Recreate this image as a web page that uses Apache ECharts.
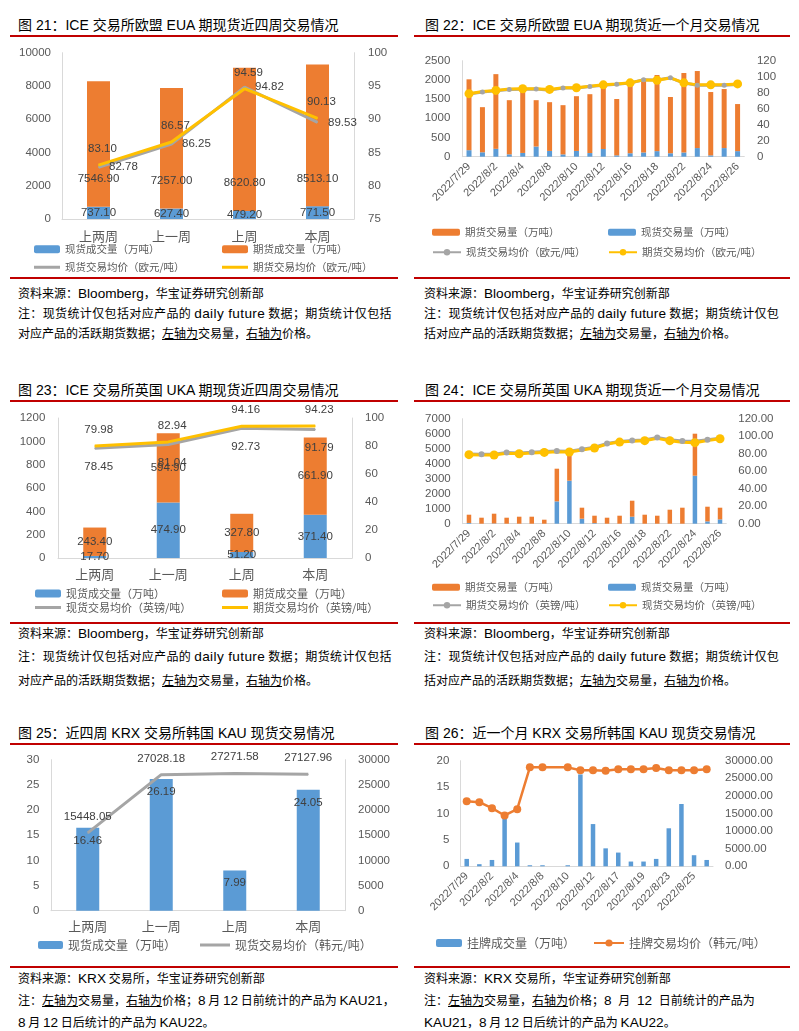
<!DOCTYPE html>
<html><head><meta charset="utf-8">
<script src="https://cdn.jsdelivr.net/npm/echarts@6/dist/echarts.min.js"></script>
<style>
html,body{margin:0;padding:0;background:#fff;}
body{width:799px;height:1031px;overflow:hidden;position:relative;font-family:"Liberation Sans","Noto Sans CJK SC",sans-serif;}
.t{position:absolute;font-size:14px;color:#000;white-space:nowrap;line-height:16px;}
.r{position:absolute;height:2px;background:#C00000;}
.n{position:absolute;font-size:12px;color:#000;white-space:nowrap;line-height:14px;font-family:"Noto Sans CJK SC","Liberation Sans",sans-serif;}
.l{font-size:13.6px;font-family:"Liberation Sans",sans-serif;}
.u{text-decoration:underline;}
.c{position:absolute;}
.sl{letter-spacing:0.37px;}
.sr{letter-spacing:0.19px;}
</style></head><body>

<div class="t" style="left:18px;top:17px;">图 21：ICE 交易所欧盟 EUA 期现货近四周交易情况</div>
<div class="t" style="left:425px;top:17px;">图 22：ICE 交易所欧盟 EUA 期现货近一个月交易情况</div>
<div class="r" style="left:10px;top:35px;width:388px;"></div>
<div class="r" style="left:414px;top:35px;width:376px;"></div>
<div class="c" id="c21" style="left:0;top:40px;width:400px;height:236px;"></div>
<div class="c" id="c22" style="left:400px;top:40px;width:399px;height:236px;"></div>
<div class="r" style="left:10px;top:277px;width:388px;"></div>
<div class="r" style="left:414px;top:277px;width:376px;"></div>
<div class="n" style="left:18px;top:286px;">资料来源：<span class="l">Bloomberg</span>，华宝证券研究创新部</div>
<div class="n sl" style="left:18px;top:306px;">注：现货统计仅包括对应产品的 <span class="l">daily future</span> 数据；期货统计仅包括</div>
<div class="n" style="left:18px;top:326px;">对应产品的活跃期货数据；<span class="u">左轴为</span>交易量，<span class="u">右轴为</span>价格。</div>
<div class="n" style="left:424px;top:286px;">资料来源：<span class="l">Bloomberg</span>，华宝证券研究创新部</div>
<div class="n sr" style="left:424px;top:306px;">注：现货统计仅包括对应产品的 <span class="l">daily future</span> 数据；期货统计仅包</div>
<div class="n" style="left:424px;top:326px;">括对应产品的活跃期货数据；<span class="u">左轴为</span>交易量，<span class="u">右轴为</span>价格。</div>

<div class="t" style="left:18px;top:382px;">图 23：ICE 交易所英国 UKA 期现货近四周交易情况</div>
<div class="t" style="left:425px;top:382px;">图 24：ICE 交易所英国 UKA 期现货近一个月交易情况</div>
<div class="r" style="left:10px;top:400px;width:388px;"></div>
<div class="r" style="left:414px;top:400px;width:376px;"></div>
<div class="c" id="c23" style="left:0;top:404px;width:400px;height:217px;"></div>
<div class="c" id="c24" style="left:400px;top:404px;width:399px;height:217px;"></div>
<div class="r" style="left:10px;top:622px;width:388px;"></div>
<div class="r" style="left:414px;top:622px;width:376px;"></div>
<div class="n" style="left:18px;top:626px;">资料来源：<span class="l">Bloomberg</span>，华宝证券研究创新部</div>
<div class="n sl" style="left:18px;top:649px;">注：现货统计仅包括对应产品的 <span class="l">daily future</span> 数据；期货统计仅包括</div>
<div class="n" style="left:18px;top:673px;">对应产品的活跃期货数据；<span class="u">左轴为</span>交易量，<span class="u">右轴为</span>价格。</div>
<div class="n" style="left:424px;top:626px;">资料来源：<span class="l">Bloomberg</span>，华宝证券研究创新部</div>
<div class="n sr" style="left:424px;top:649px;">注：现货统计仅包括对应产品的 <span class="l">daily future</span> 数据；期货统计仅包</div>
<div class="n" style="left:424px;top:673px;">括对应产品的活跃期货数据；<span class="u">左轴为</span>交易量，<span class="u">右轴为</span>价格。</div>

<div class="t" style="left:18px;top:725px;">图 25：近四周 KRX 交易所韩国 KAU 现货交易情况</div>
<div class="t" style="left:425px;top:725px;">图 26：近一个月 KRX 交易所韩国 KAU 现货交易情况</div>
<div class="r" style="left:10px;top:743px;width:388px;"></div>
<div class="r" style="left:414px;top:743px;width:376px;"></div>
<div class="c" id="c25" style="left:0;top:748px;width:400px;height:216px;"></div>
<div class="c" id="c26" style="left:400px;top:748px;width:399px;height:216px;"></div>
<div class="r" style="left:10px;top:966px;width:388px;"></div>
<div class="r" style="left:414px;top:966px;width:376px;"></div>
<div class="n" style="left:18px;top:971px;">资料来源：<span class="l">KRX</span> 交易所，华宝证券研究创新部</div>
<div class="n" style="left:18px;top:993px;">注：<span class="u">左轴为</span>交易量，<span class="u">右轴为</span>价格；<span class="l">8</span> 月 <span class="l">12</span> 日前统计的产品为 <span class="l">KAU21</span>，</div>
<div class="n" style="left:18px;top:1015px;"><span class="l">8</span> 月 <span class="l">12</span> 日后统计的产品为 <span class="l">KAU22</span>。</div>
<div class="n" style="left:424px;top:971px;">资料来源：<span class="l">KRX</span> 交易所，华宝证券研究创新部</div>
<div class="n" style="left:424px;top:993px;word-spacing:4px;">注：<span class="u">左轴为</span>交易量，<span class="u">右轴为</span>价格；<span class="l">8</span> 月 <span class="l">12</span> 日前统计的产品为</div>
<div class="n" style="left:424px;top:1015px;"><span class="l">KAU21</span>，<span class="l">8</span> 月 <span class="l">12</span> 日后统计的产品为 <span class="l">KAU22</span>。</div>

<script>
// ---------- data ----------
const weeks = ['上两周', '上一周', '上周', '本周'];

// Fig 21: EUA weekly
const euaSpotVol = [737.10, 627.40, 479.20, 771.50];
const euaFutVol = [7546.90, 7257.00, 8620.80, 8513.10];
const euaSpotPx = [82.78, 86.25, 94.82, 89.53];
const euaFutPx = [83.10, 86.57, 94.59, 90.13];

// Fig 22 / 24: ICE daily
const iceDays = ['2022/7/29', '2022/8/1', '2022/8/2', '2022/8/3', '2022/8/4', '2022/8/5', '2022/8/8',
  '2022/8/9', '2022/8/10', '2022/8/11', '2022/8/12', '2022/8/15', '2022/8/16', '2022/8/17',
  '2022/8/18', '2022/8/19', '2022/8/22', '2022/8/23', '2022/8/24', '2022/8/25', '2022/8/26'];
const euaDayFutVol = [1845, 1175, 1945, 1410, 1682, 1207, 1270, 1282, 1426, 1533, 1623, 1467, 1837, 1904, 1982, 1464, 2069, 2006, 1649, 1537, 1226];
const euaDaySpotVol = [170, 115, 205, 62, 98, 265, 150, 60, 150, 95, 200, 35, 90, 110, 145, 90, 110, 225, 35, 225, 145];
const euaDaySpotPx = [78.3, 81.0, 82.4, 83.9, 84.4, 84.5, 83.2, 85.8, 85.8, 87.8, 89.4, 90.6, 92.1, 96.2, 95.8, 98.6, 92.0, 89.2, 89.3, 89.2, 90.2];
const euaDayFutPx = [78.8, 81.6, 82.9, 84.5, 84.9, 84.9, 84.1, 86.2, 86.2, 88.2, 89.8, 91.0, 92.3, 96.0, 95.6, 98.5, 92.3, 89.8, 89.8, 89.8, 91.0];

// Fig 23: UKA weekly
const ukaSpotVol = [17.70, 474.90, 51.20, 371.40];
const ukaFutVol = [243.40, 594.90, 327.80, 661.90];
const ukaSpotPx = [78.45, 81.04, 92.73, 91.79];
const ukaFutPx = [79.98, 82.94, 94.16, 94.23];

// Fig 24: UKA daily
const ukaDayFutVol = [550, 400, 649, 400, 467, 467, 267, 2178, 2111, 734, 493, 400, 533, 1066, 600, 533, 933, 1067, 2800, 978, 778];
const ukaDaySpotVol = [50, 0, 18, 0, 0, 0, 0, 1489, 2867, 333, 40, 0, 0, 467, 0, 0, 0, 0, 3200, 155, 289];
const ukaDayFutPx = [79.6, 79.3, 79.3, 81.4, 80.8, 81.6, 82.6, 83.0, 82.8, 85.0, 87.4, 91.6, 94.0, 95.1, 95.8, 98.4, 95.9, 94.6, 94.3, 96.0, 97.6];
const ukaDaySpotPx = [78.9, 78.5, 78.5, 80.4, 80.0, 80.8, 81.5, 82.3, 81.9, 84.2, 86.5, 91.0, 93.3, 94.1, 94.9, 97.5, 94.9, 93.0, 92.6, 95.2, 97.1];

// Fig 25: KAU weekly
const kauVol = [16.46, 26.19, 7.99, 24.05];
const kauPx = [15448.05, 27028.18, 27271.58, 27127.96];

// Fig 26: KAU daily
const krxDays = ['2022/7/29', '2022/8/1', '2022/8/2', '2022/8/3', '2022/8/4', '2022/8/5', '2022/8/8',
  '2022/8/9', '2022/8/10', '2022/8/11', '2022/8/12', '2022/8/16', '2022/8/17', '2022/8/18',
  '2022/8/19', '2022/8/22', '2022/8/23', '2022/8/24', '2022/8/25', '2022/8/26'];
const kauDayVol = [1.4, 0.4, 1.2, 9.9, 4.5, 0.2, 0.2, 0, 0.2, 17.4, 8.0, 3.4, 2.6, 0.9, 0.9, 1.4, 7.2, 11.8, 2.1, 1.2];
const kauDayPx = [18490, 18208, 16509, 14434, 16226, 28113, 28113, null, 28113, 27264, 27264, 27170, 27547, 27547, 27547, 27924, 27264, 27264, 27264, 27547];

// ---------- styles ----------
const BLUE = '#5B9BD5', ORANGE = '#ED7D31', GRAY = '#A5A5A5', YELLOW = '#FFC000';
const NUMFONT = '"Liberation Sans", "Noto Sans CJK SC", sans-serif';
const CJKFONT = '"Noto Sans CJK SC", "Liberation Sans", sans-serif';
const AXC = '#D9D9D9';

function catAxis(data, rotated, margin) {
  return {
    type: 'category', data: data,
    axisLine: { show: true, lineStyle: { color: AXC } },
    axisTick: { show: false },
    axisLabel: rotated
      ? { color: '#595959', fontSize: 11, fontFamily: NUMFONT, rotate: 45, interval: 1, margin: margin }
      : { color: '#595959', fontSize: 13, fontFamily: CJKFONT, margin: margin }
  };
}
function valAxis(min, max, interval, pos, showLine, margin, fixed) {
  return {
    type: 'value', min: min, max: max, interval: interval, position: pos,
    axisLine: { show: showLine, lineStyle: { color: AXC } },
    axisTick: { show: false },
    splitLine: { show: false },
    axisLabel: {
      color: '#595959', fontSize: 11.5, fontFamily: NUMFONT, margin: margin,
      formatter: fixed ? (v => v.toFixed(2)) : (v => String(v))
    }
  };
}
function lg(name, left, top, fs, w, h, icon) {
  const o = {
    data: [name], left: left, top: top, padding: 0, itemGap: 0,
    itemWidth: w || 26, itemHeight: h || 8,
    textStyle: { color: '#595959', fontSize: fs || 10.5, fontFamily: CJKFONT }
  };
  if (icon) o.icon = icon;
  return o;
}
function lbl(pos, extra) {
  return Object.assign({
    show: true, position: pos, color: '#404040', fontSize: 11.5, fontFamily: NUMFONT,
    textBorderWidth: 0, formatter: p => p.value.toFixed(2)
  }, extra || {});
}

function mk(id, opt) {
  const c = echarts.init(document.getElementById(id), null, { renderer: 'canvas' });
  opt.animation = false;
  c.setOption(opt);
}

// ---------- Fig 21 ----------
mk('c21', {
  grid: { left: 62, top: 12.7, width: 292, height: 166.3 },
  xAxis: catAxis(weeks, false, 11),
  yAxis: [valAxis(0, 10000, 2000, 'left', true, 11), valAxis(75, 100, 5, 'right', true, 14)],
  legend: [
    lg('现货成交量（万吨）', 34, 204), lg('期货成交量（万吨）', 222, 204),
    lg('现货交易均价（欧元/吨）', 34, 222, 10.5, 26, 3, 'rect'), lg('期货交易均价（欧元/吨）', 222, 222, 10.5, 26, 3, 'rect')
  ],
  series: [
    { name: '现货成交量（万吨）', type: 'bar', stack: 'v', data: euaSpotVol, barWidth: 23,
      itemStyle: { color: BLUE }, label: lbl('inside') },
    { name: '期货成交量（万吨）', type: 'bar', stack: 'v', data: euaFutVol, barWidth: 23,
      itemStyle: { color: ORANGE }, label: lbl('insideBottom', { offset: [0, -17] }) },
    { name: '现货交易均价（欧元/吨）', type: 'line', yAxisIndex: 1, data: euaSpotPx,
      symbol: 'circle', symbolSize: 1, itemStyle: { color: GRAY }, lineStyle: { color: GRAY, width: 3 },
      label: lbl('right', { distance: 10 }) },
    { name: '期货交易均价（欧元/吨）', type: 'line', yAxisIndex: 1, data: euaFutPx,
      symbol: 'circle', symbolSize: 1, itemStyle: { color: YELLOW }, lineStyle: { color: YELLOW, width: 3 },
      label: lbl('top', { distance: 10, offset: [4, 0] }) }
  ]
});

// ---------- Fig 22 ----------
mk('c22', {
  grid: { left: 62.3, top: 20.7, width: 282, height: 96 },
  xAxis: catAxis(iceDays, true, 8),
  yAxis: [valAxis(0, 2500, 500, 'left', true, 12), valAxis(0, 120, 20, 'right', false, 12.6)],
  legend: [
    lg('期货交易量（万吨）', 32, 187, 10.5, 28, 7), lg('现货交易量（万吨）', 208, 187, 10.5, 28, 7),
    lg('现货交易均价（欧元/吨）', 32, 207, 10.5, 28, 8), lg('期货交易均价（欧元/吨）', 208, 207, 10.5, 28, 8)
  ],
  series: [
    { name: '现货交易量（万吨）', type: 'bar', stack: 'v', data: euaDaySpotVol, barWidth: 5, itemStyle: { color: BLUE } },
    { name: '期货交易量（万吨）', type: 'bar', stack: 'v', data: euaDayFutVol, barWidth: 5, itemStyle: { color: ORANGE } },
    { name: '现货交易均价（欧元/吨）', type: 'line', yAxisIndex: 1, data: euaDaySpotPx,
      symbol: 'circle', symbolSize: 5, itemStyle: { color: GRAY }, lineStyle: { color: GRAY, width: 3 } },
    { name: '期货交易均价（欧元/吨）', type: 'line', yAxisIndex: 1, data: euaDayFutPx,
      symbol: 'circle', symbolSize: 9, itemStyle: { color: YELLOW }, lineStyle: { color: YELLOW, width: 3 } }
  ]
});

// ---------- Fig 23 ----------
mk('c23', {
  grid: { left: 58, top: 14, width: 294, height: 140 },
  xAxis: catAxis(weeks, false, 10),
  yAxis: [valAxis(0, 1200, 200, 'left', true, 12.7), valAxis(0, 100, 20, 'right', true, 13)],
  legend: [
    lg('现货成交量（万吨）', 35, 184, 11), lg('期货成交量（万吨）', 222, 184, 11),
    lg('现货交易均价（英镑/吨）', 35, 198, 11, 26, 3, 'rect'), lg('期货交易均价（英镑/吨）', 222, 198, 11, 26, 3, 'rect')
  ],
  series: [
    { name: '现货成交量（万吨）', type: 'bar', stack: 'v', data: ukaSpotVol, barWidth: 23,
      itemStyle: { color: BLUE }, label: lbl('inside') },
    { name: '期货成交量（万吨）', type: 'bar', stack: 'v', data: ukaFutVol, barWidth: 23,
      itemStyle: { color: ORANGE }, label: lbl('inside') },
    { name: '现货交易均价（英镑/吨）', type: 'line', yAxisIndex: 1, data: ukaSpotPx,
      symbol: 'circle', symbolSize: 1, itemStyle: { color: GRAY }, lineStyle: { color: GRAY, width: 3 },
      label: lbl('bottom', { distance: 12, offset: [4, 0] }) },
    { name: '期货交易均价（英镑/吨）', type: 'line', yAxisIndex: 1, data: ukaFutPx,
      symbol: 'circle', symbolSize: 1, itemStyle: { color: YELLOW }, lineStyle: { color: YELLOW, width: 3 },
      label: lbl('top', { distance: 10, offset: [4, 0] }) }
  ]
});

// ---------- Fig 24 ----------
mk('c24', {
  grid: { left: 62.7, top: 14.7, width: 263.6, height: 105 },
  xAxis: catAxis(iceDays, true, 8),
  yAxis: [valAxis(0, 7000, 1000, 'left', true, 12), valAxis(0, 120, 20, 'right', false, 12, true)],
  legend: [
    lg('期货交易量（万吨）', 32, 178, 10.5, 28, 7), lg('现货交易量（万吨）', 208, 178, 10.5, 28, 7),
    lg('期货交易均价（英镑/吨）', 32, 196, 10.5, 28, 8), lg('现货交易均价（英镑/吨）', 208, 196, 10.5, 28, 8)
  ],
  series: [
    { name: '现货交易量（万吨）', type: 'bar', stack: 'v', data: ukaDaySpotVol, barWidth: 4.5, itemStyle: { color: BLUE } },
    { name: '期货交易量（万吨）', type: 'bar', stack: 'v', data: ukaDayFutVol, barWidth: 4.5, itemStyle: { color: ORANGE } },
    { name: '期货交易均价（英镑/吨）', type: 'line', yAxisIndex: 1, data: ukaDayFutPx,
      symbol: 'circle', symbolSize: 6, itemStyle: { color: GRAY }, lineStyle: { color: GRAY, width: 3 } },
    { name: '现货交易均价（英镑/吨）', type: 'line', yAxisIndex: 1, data: ukaDaySpotPx,
      symbol: 'circle', symbolSize: 9, itemStyle: { color: YELLOW }, lineStyle: { color: YELLOW, width: 3 } }
  ]
});

// ---------- Fig 25 ----------
mk('c25', {
  grid: { left: 51, top: 11.7, width: 294, height: 151 },
  xAxis: catAxis(weeks, false, 9),
  yAxis: [valAxis(0, 30, 5, 'left', true, 11.7), valAxis(0, 30000, 5000, 'right', true, 13)],
  legend: [
    lg('现货成交量（万吨）', 38, 191, 12, 25, 8), lg('现货交易均价（韩元/吨）', 200, 191, 12, 30, 3, 'rect')
  ],
  series: [
    { name: '现货成交量（万吨）', type: 'bar', data: kauVol, barWidth: 23,
      itemStyle: { color: BLUE }, label: lbl('insideTop', { distance: 7 }) },
    { name: '现货交易均价（韩元/吨）', type: 'line', yAxisIndex: 1, data: kauPx,
      symbol: 'circle', symbolSize: 1, itemStyle: { color: GRAY }, lineStyle: { color: GRAY, width: 3 },
      label: lbl('top', { distance: 10 }) }
  ]
});

// ---------- Fig 26 ----------
mk('c26', {
  grid: { left: 60.4, top: 12.7, width: 252.6, height: 105.6 },
  xAxis: catAxis(krxDays, true, 8),
  yAxis: [valAxis(0, 20, 5, 'left', true, 11), valAxis(0, 30000, 5000, 'right', false, 12, true)],
  legend: [
    lg('挂牌成交量（万吨）', 36, 189, 12, 26, 8), lg('挂牌交易均价（韩元/吨）', 193, 189, 12, 30, 9)
  ],
  series: [
    { name: '挂牌成交量（万吨）', type: 'bar', data: kauDayVol, barWidth: 4.5, itemStyle: { color: BLUE } },
    { name: '挂牌交易均价（韩元/吨）', type: 'line', yAxisIndex: 1, data: kauDayPx, connectNulls: true,
      symbol: 'circle', symbolSize: 8, itemStyle: { color: ORANGE }, lineStyle: { color: ORANGE, width: 2.5 } }
  ]
});
</script>
</body></html>
